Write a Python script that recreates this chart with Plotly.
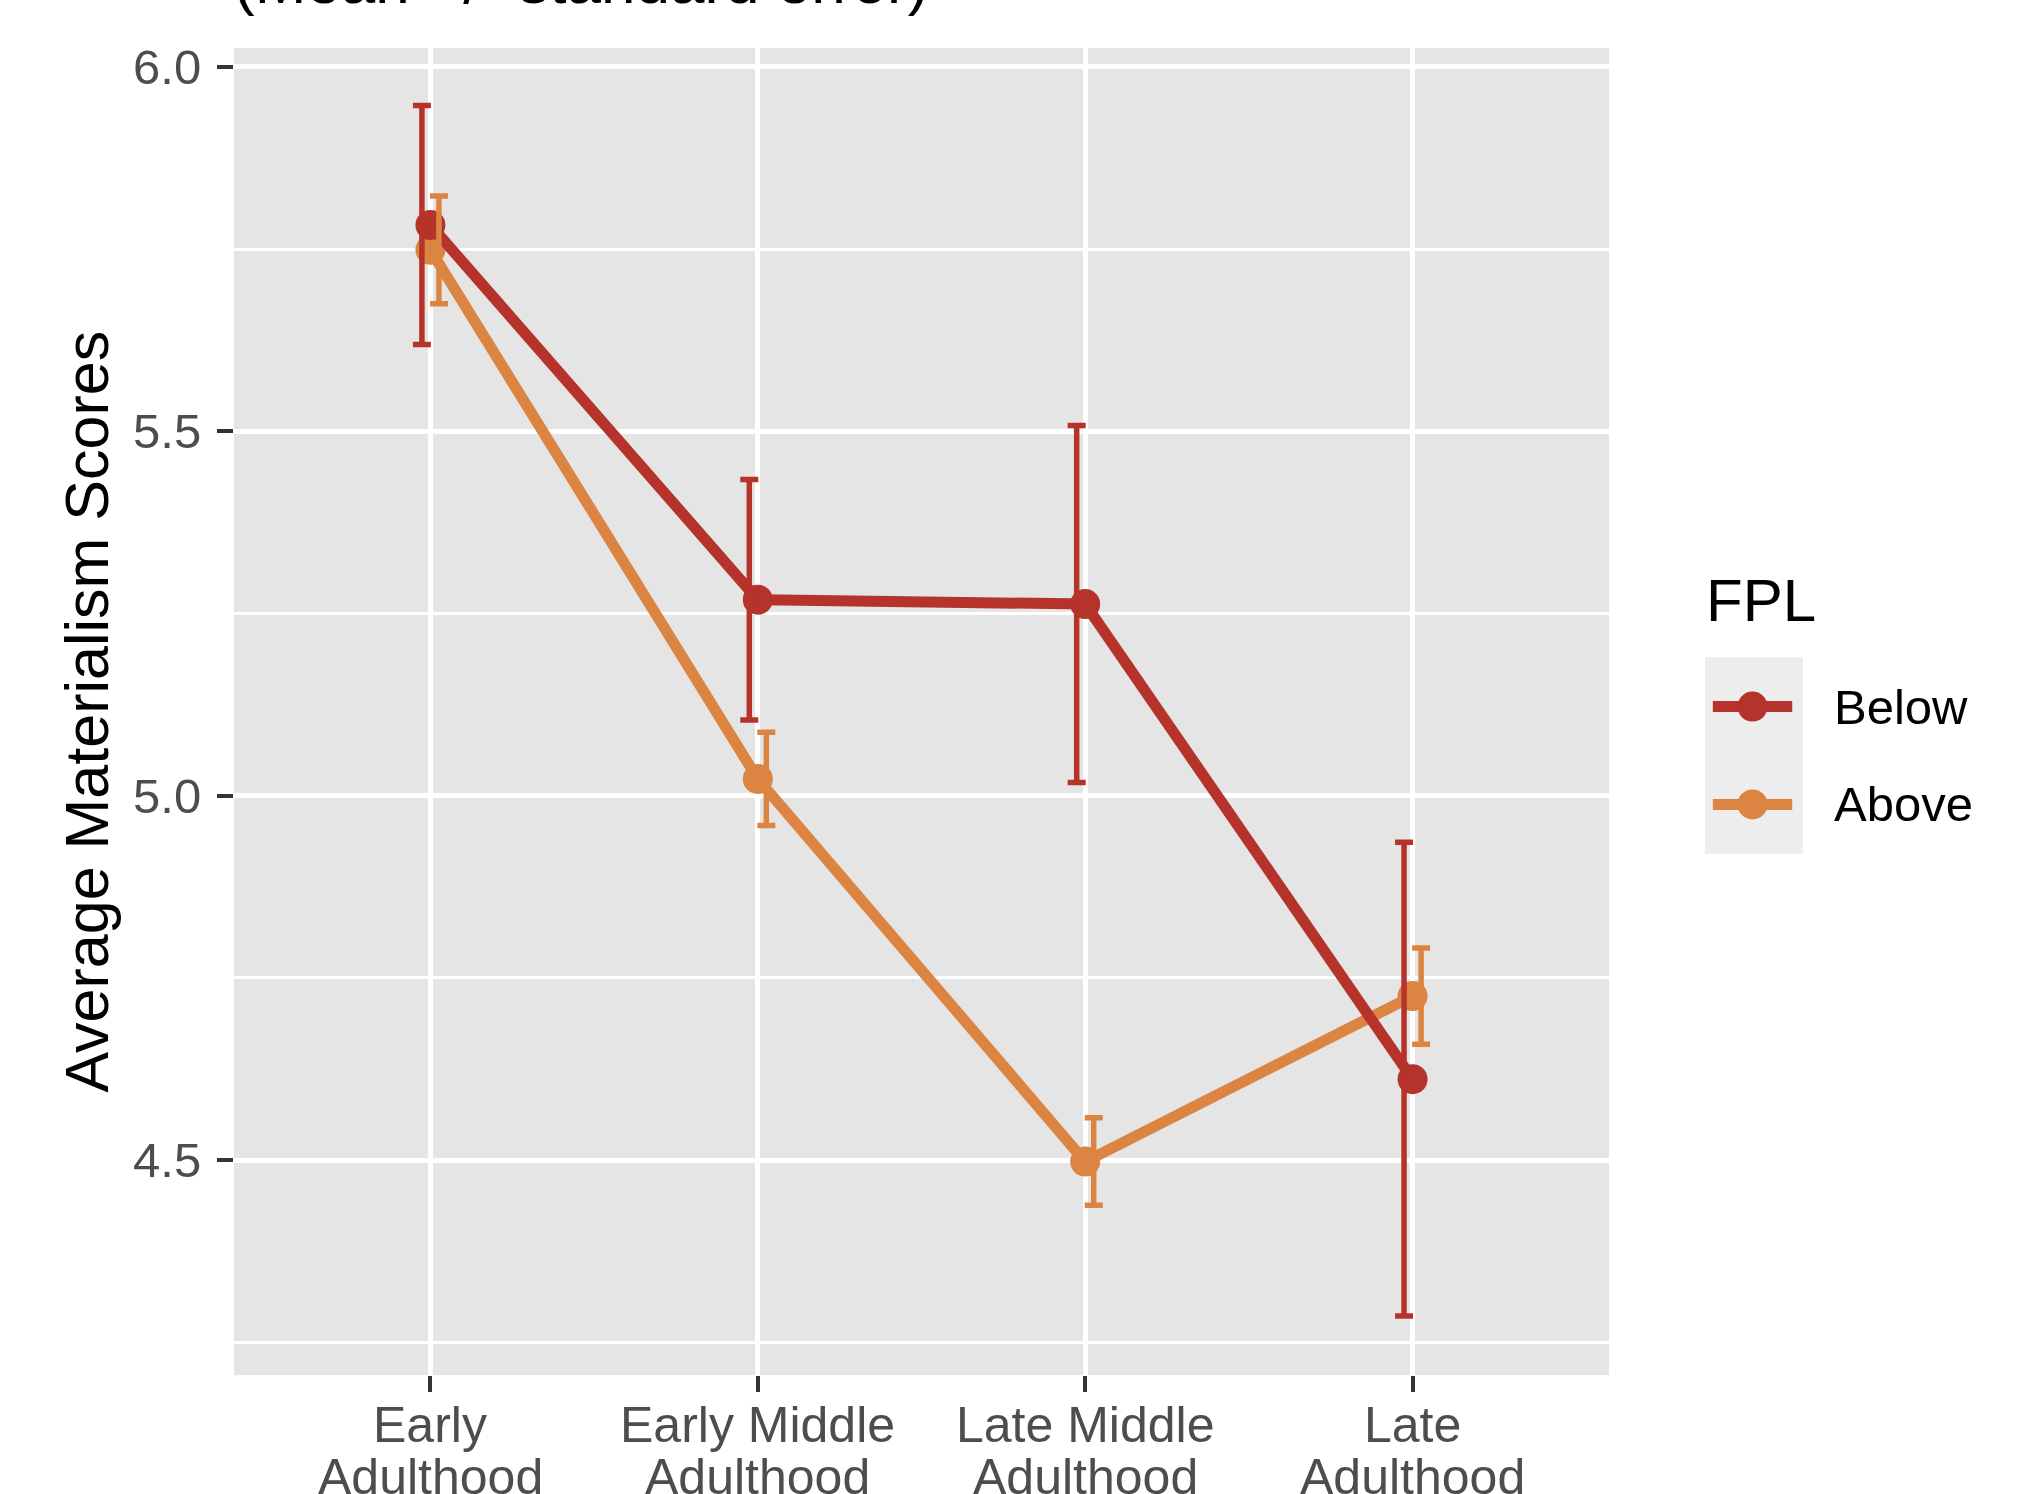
import plotly.graph_objects as go

# ---- data -------------------------------------------------------------
age_line1 = ["Early", "Early Middle", "Late Middle", "Late"]
age_line2 = ["Adulthood", "Adulthood", "Adulthood", "Adulthood"]

below_mean = [5.783, 5.269, 5.263, 4.611]
below_se = [0.164, 0.165, 0.245, 0.325]
above_mean = [5.749, 5.023, 4.498, 4.725]
above_se = [0.074, 0.064, 0.060, 0.066]

y_ticks = [4.5, 5.0, 5.5, 6.0]
y_tick_text = ["4.5", "5.0", "5.5", "6.0"]

# ---- styling ----------------------------------------------------------
W, H = 2027, 1494
TOP_OFFSET = 7          # paper coordinates begin this many px below page top
RED = "#B5332B"
ORANGE = "#DC8442"
FONT = "Liberation Sans, Arial, Helvetica, sans-serif"
PANEL = (234, 1609, 47, 1375)  # left, right, top, bottom in px
DODGE = 0.026


def px_x(p):
    return p / W


def px_y(p):
    return 1 - (p - TOP_OFFSET) / (H - TOP_OFFSET)


xpos = list(range(len(age_line1)))

fig = go.Figure()

# connecting lines with points
for name, mean, col in [("Above", above_mean, ORANGE), ("Below", below_mean, RED)]:
    fig.add_trace(go.Scatter(
        x=xpos, y=mean, mode="lines+markers", name=name,
        line=dict(color=col, width=11),
        marker=dict(color=col, size=30),
        showlegend=False, hoverinfo="skip",
    ))

# dodged error bars
for mean, se, col, shift in [(below_mean, below_se, RED, -DODGE),
                             (above_mean, above_se, ORANGE, DODGE)]:
    fig.add_trace(go.Scatter(
        x=[v + shift for v in xpos], y=mean, mode="markers",
        marker=dict(size=1, opacity=0),
        error_y=dict(type="data", array=se, visible=True,
                     color=col, thickness=5.5, width=9),
        showlegend=False, hoverinfo="skip",
    ))

# legend glyphs drawn on a small helper axis pair
for row, col in [(1.5, RED), (0.5, ORANGE)]:
    fig.add_trace(go.Scatter(
        x=[0.08, 0.89], y=[row, row], mode="lines",
        line=dict(color=col, width=11), xaxis="x2", yaxis="y2",
        showlegend=False, hoverinfo="skip",
    ))
    fig.add_trace(go.Scatter(
        x=[0.485], y=[row], mode="markers",
        marker=dict(color=col, size=30), xaxis="x2", yaxis="y2",
        showlegend=False, hoverinfo="skip",
    ))

annotations = []
# x category labels (two lines)
for i, (l1, l2) in enumerate(zip(age_line1, age_line2)):
    annotations.append(dict(x=i, y=px_y(1425), xref="x", yref="paper",
                            text=l1, showarrow=False, yanchor="middle",
                            font=dict(family=FONT, size=50, color="#4D4D4D")))
    annotations.append(dict(x=i, y=px_y(1477), xref="x", yref="paper",
                            text=l2, showarrow=False, yanchor="middle",
                            font=dict(family=FONT, size=50, color="#4D4D4D")))

# y axis title
annotations.append(dict(x=px_x(87), y=px_y(711), xref="paper", yref="paper",
                        text="Average Materialism Scores", textangle=-90,
                        showarrow=False, xanchor="center", yanchor="middle",
                        font=dict(family=FONT, size=61, color="black")))

# subtitle line of the plot title
annotations.append(dict(x=px_x(232), y=px_y(17), xref="paper", yref="paper",
                        text="(Mean +/- standard error)", showarrow=False,
                        xanchor="left", yanchor="bottom",
                        font=dict(family=FONT, size=62, color="black")))

# legend title and labels
annotations.append(dict(x=px_x(1704), y=px_y(600), xref="paper", yref="paper",
                        text="FPL", showarrow=False, xanchor="left",
                        yanchor="middle",
                        font=dict(family=FONT, size=60, color="black")))
for label, ypx in [("Below", 706), ("Above", 804)]:
    annotations.append(dict(x=px_x(1832), y=px_y(ypx), xref="paper",
                            yref="paper", text=label, showarrow=False,
                            xanchor="left", yanchor="middle",
                            font=dict(family=FONT, size=49, color="black")))

shapes = [dict(type="rect", xref="x2 domain", yref="y2 domain",
               x0=0, x1=1, y0=0, y1=1, fillcolor="#EDEDED",
               line=dict(width=0), layer="below")]

fig.update_layout(
    width=W, height=H,
    margin=dict(l=0, r=0, t=0, b=0),
    paper_bgcolor="white",
    plot_bgcolor="#E5E5E5",
    showlegend=False,
    font=dict(family=FONT),
    annotations=annotations,
    shapes=shapes,
    xaxis=dict(
        domain=[px_x(PANEL[0]), px_x(PANEL[1])],
        range=[-0.6, 3.6], tickvals=xpos, showticklabels=False,
        ticks="outside", ticklen=16, tickwidth=4, tickcolor="#333333",
        showgrid=True, gridcolor="white", gridwidth=5,
        zeroline=False, showline=False, fixedrange=True,
    ),
    yaxis=dict(
        domain=[px_y(PANEL[3]), px_y(PANEL[2])],
        range=[4.205, 6.026], tickvals=y_ticks, ticktext=y_tick_text,
        ticks="outside", ticklen=16, tickwidth=4, tickcolor="#333333",
        tickfont=dict(family=FONT, size=49, color="#4D4D4D"),
        ticklabelstandoff=6,
        showgrid=True, gridcolor="white", gridwidth=5,
        minor=dict(tickvals=[4.25, 4.75, 5.25, 5.75], showgrid=True,
                   gridcolor="white", gridwidth=2.5, ticks=""),
        zeroline=False, showline=False, fixedrange=True,
    ),
    xaxis2=dict(domain=[px_x(1705), px_x(1803)], range=[0, 1],
                anchor="y2", visible=False, fixedrange=True),
    yaxis2=dict(domain=[px_y(853), px_y(657)], range=[0, 2],
                anchor="x2", visible=False, fixedrange=True),
)

fig.write_html("out.html")
